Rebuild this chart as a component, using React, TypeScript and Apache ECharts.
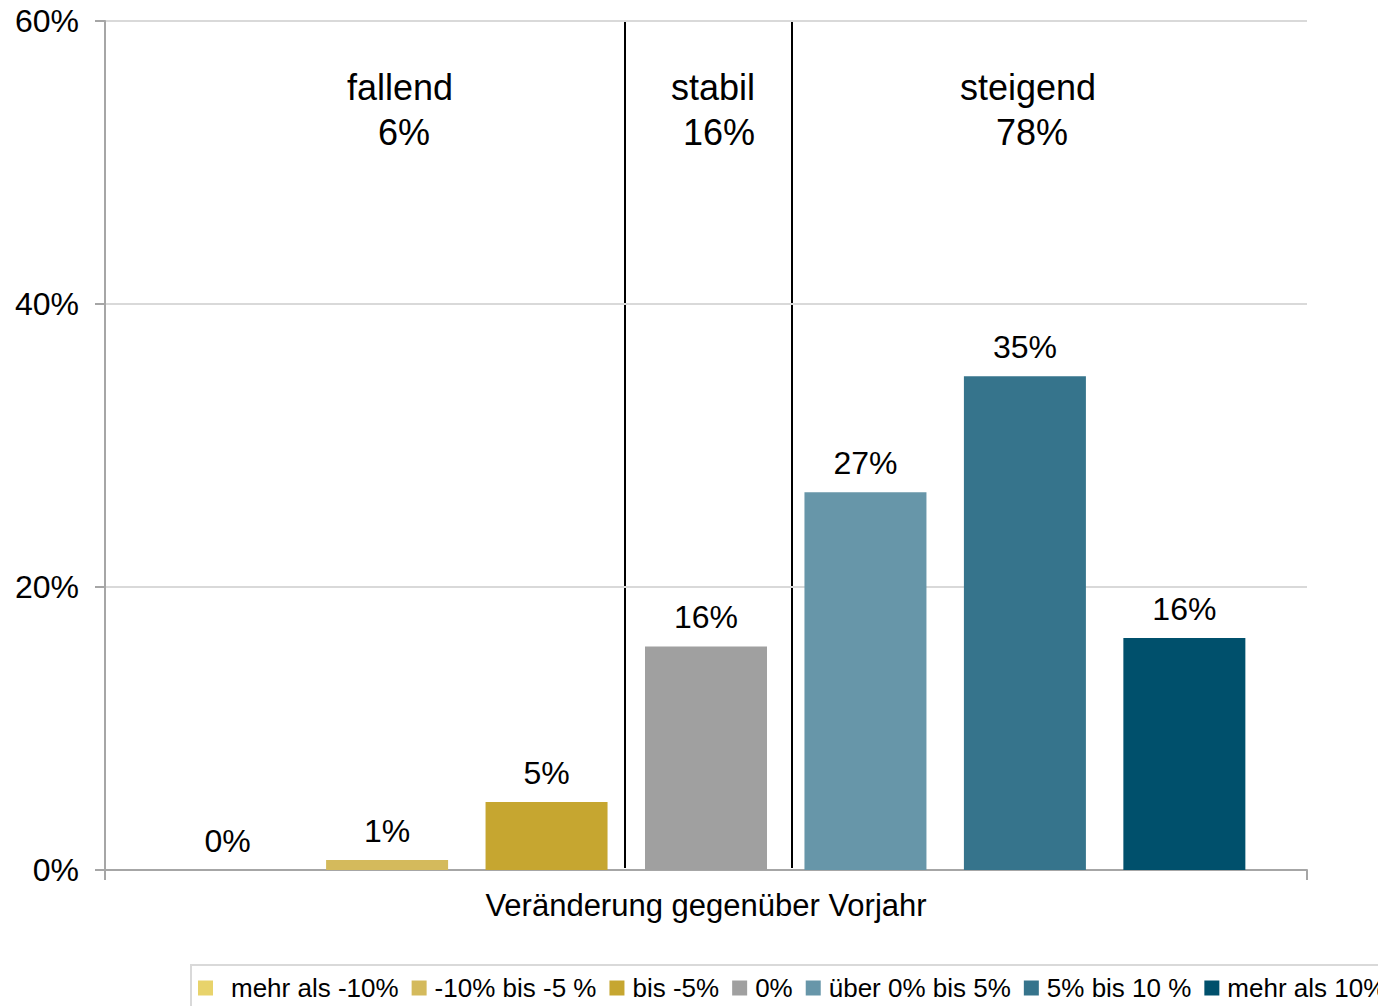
import React, { useEffect, useRef } from "react";
import * as echarts from "echarts";

const categories = ["Veränderung gegenüber Vorjahr"];
const seriesNames = [
  "mehr als -10%",
  "-10% bis -5 %",
  "bis -5%",
  "0%",
  "über 0% bis 5%",
  "5% bis 10 %",
  "mehr als 10%",
];
const seriesValues = [0, 0.7, 4.8, 15.8, 26.7, 34.9, 16.4];
const seriesColors = ["#E8D36B", "#D4BA5C", "#C6A630", "#A0A0A0", "#6796A9", "#36748C", "#00506C"];
const groupTitles = ["fallend", "stabil", "steigend"];
const groupShares = ["6%", "16%", "78%"];
const yTicks = { min: 0, max: 60, interval: 20 };

const FONT = "'Liberation Sans', Arial, sans-serif";

export default function App() {
  const ref = useRef<HTMLDivElement>(null);
  useEffect(() => {
    if (!ref.current) return;
    const chart = echarts.init(ref.current, undefined, { renderer: "svg" });
    const series = seriesNames.map((name, i) => ({
      name,
      type: "bar",
      data: [seriesValues[i]],
      barWidth: 122,
      barGap: "30.7%",
      itemStyle: { color: seriesColors[i] },
      label: {
        show: true,
        position: "top",
        distance: 13,
        fontFamily: FONT,
        fontSize: 32,
        color: "#000",
        formatter: (p: any) => Math.round(p.value) + "%",
      },
    }));
    const titleX = [400, 713, 1028];
    const shareX = [404, 719, 1032];
    chart.setOption({
      animation: false,
      textStyle: { fontFamily: FONT },
      grid: { left: 105, right: 71, top: 21, bottom: 136, containLabel: false },
      legend: {
        left: 198,
        top: 975,
        width: 1600,
        padding: 0,
        itemWidth: 15,
        itemHeight: 15,
        itemGap: 13,
        icon: "rect",
        textStyle: { fontFamily: FONT, fontSize: 26, color: "#000", padding: [0, 0, 0, 3] },
        data: seriesNames.map((n, i) =>
          i === 0 ? { name: n, textStyle: { padding: [0, 0, 0, 13] } } : { name: n }
        ),
      },
      xAxis: {
        type: "category",
        data: categories,
        boundaryGap: true,
        axisLine: { lineStyle: { color: "#A6A6A6", width: 2 } },
        axisTick: { show: true, length: 10, lineStyle: { color: "#A6A6A6", width: 2 } },
        axisLabel: { margin: 20, fontFamily: FONT, fontSize: 31, color: "#000" },
      },
      yAxis: {
        type: "value",
        min: yTicks.min,
        max: yTicks.max,
        interval: yTicks.interval,
        axisLine: { show: true, lineStyle: { color: "#A6A6A6", width: 2 } },
        axisTick: { show: true, length: 10, lineStyle: { color: "#A6A6A6", width: 2 } },
        axisLabel: { margin: 26, fontFamily: FONT, fontSize: 32, color: "#000", formatter: "{value}%" },
        splitLine: { lineStyle: { color: "#D9D9D9", width: 2 } },
      },
      series,
      graphic: [
        { type: "line", shape: { x1: 625, y1: 22, x2: 625, y2: 868 }, style: { stroke: "#000", lineWidth: 2 } },
        { type: "line", shape: { x1: 792, y1: 22, x2: 792, y2: 868 }, style: { stroke: "#000", lineWidth: 2 } },
        ...groupTitles.map((t, i) => ({
          type: "text",
          x: titleX[i],
          y: 87,
          style: {
            text: t,
            fontFamily: FONT,
            fontSize: 36,
            fill: "#000",
            align: "center",
            verticalAlign: "middle",
          },
        })),
        ...groupShares.map((t, i) => ({
          type: "text",
          x: shareX[i],
          y: 132,
          style: {
            text: t,
            fontFamily: FONT,
            fontSize: 36,
            fill: "#000",
            align: "center",
            verticalAlign: "middle",
          },
        })),
        {
          type: "rect",
          shape: { x: 191, y: 965, width: 1300, height: 100 },
          style: { fill: "none", stroke: "#D9D9D9", lineWidth: 2 },
        },
      ],
    });
    return () => chart.dispose();
  }, []);
  return (
    <div
      ref={ref}
      style={{ position: "fixed", left: 0, top: 0, width: 1378, height: 1006, background: "#fff" }}
    />
  );
}
